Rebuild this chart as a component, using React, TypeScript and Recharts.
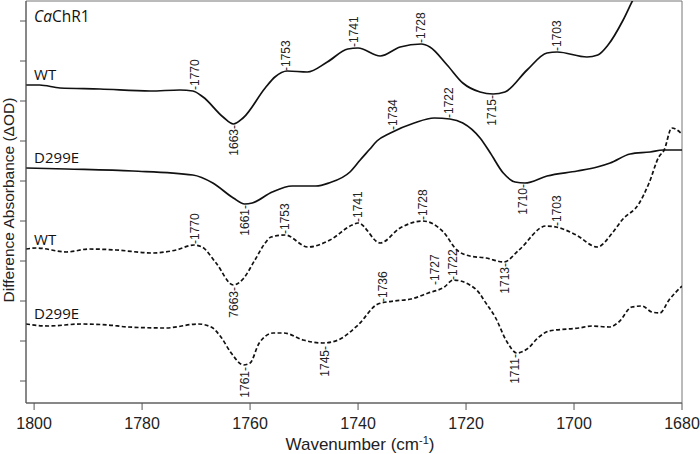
import React from 'react';
import { LineChart, Line, XAxis, YAxis, ReferenceDot, ReferenceArea } from 'recharts';

// ---- data (wavenumber in cm-1, difference absorbance in arbitrary units; 40 units per y tick) ----
const wtSolidWn = [1801.5, 1799, 1795.2, 1787.8, 1778.5, 1773, 1770.6, 1768.7, 1765, 1763.1, 1761.3, 1757.2, 1755.4, 1753.1, 1749.4, 1745.7, 1741.9, 1740, 1735.9, 1732.2, 1728.3, 1726.7, 1723.5, 1720.6, 1717.4, 1715, 1712.8, 1708.7, 1705, 1703.1, 1697.6, 1695.6, 1693.7, 1690.9, 1689.1, 1684.1, 1680];
const wtSolidVal = [296, 296, 293, 292, 290, 291, 290, 284, 264, 257, 263, 293, 304, 310, 309, 319, 332, 333, 325, 334, 337, 334, 316, 298, 289, 287, 289, 311, 328, 329, 324, 326, 336, 361, 381, 426, 461];

const d299SolidWn = [1801.5, 1794, 1781.7, 1770.6, 1766.9, 1763.1, 1761, 1759.6, 1755.9, 1752.2, 1747.8, 1745.4, 1741.5, 1739.6, 1737.8, 1736.5, 1734, 1729.6, 1725.9, 1723, 1720.6, 1717.4, 1715.5, 1713.1, 1710.9, 1709.1, 1705, 1699.4, 1695.7, 1693.3, 1689.6, 1685.9, 1683.5, 1680];
const d299SolidVal = [213, 212, 210, 206, 198, 183, 177, 178, 189, 195, 195, 198, 209, 221, 232, 240, 248, 258, 263, 262, 258, 243, 228, 208, 199, 198, 205, 210, 214, 218, 227, 229, 231, 231];

const wtDashWn = [1801.5, 1799.5, 1794, 1789.8, 1784.8, 1778.1, 1773.7, 1770.4, 1768.9, 1766.3, 1763.1, 1761.3, 1759.1, 1757.2, 1756.1, 1753.5, 1749.3, 1745.2, 1741.1, 1740, 1735.9, 1732.2, 1728, 1724.2, 1721.7, 1719.3, 1716.3, 1713, 1710.2, 1705.2, 1703.3, 1699.6, 1695.7, 1692.9, 1691.1, 1687.9, 1686.1, 1684.3, 1683.3, 1681.9, 1680];
const wtDashVal = [132, 133, 129, 132, 131, 128, 131, 136, 134, 118, 96, 102, 121, 138, 144, 146, 134, 141, 156, 158, 138, 153, 160, 149, 131, 125, 123, 119, 131, 155, 154, 146, 134, 148, 161, 178, 198, 224, 231, 253, 247];

const d299DashWn = [1801.5, 1797.4, 1791.3, 1786.3, 1782.6, 1775.7, 1769.6, 1767.2, 1765.4, 1763.5, 1761.2, 1760, 1758.3, 1755.7, 1753.7, 1750.2, 1746.5, 1743.7, 1740, 1736.3, 1733.3, 1730.2, 1727, 1724, 1722.4, 1719.3, 1717.4, 1716.7, 1714.6, 1712.4, 1710.6, 1708.7, 1706.5, 1704.6, 1699.1, 1696.7, 1693.5, 1691.7, 1689.3, 1687.4, 1685.6, 1684.1, 1682.4, 1680];
const d299DashVal = [57, 55, 57, 56, 54, 53, 57, 54, 44, 28, 16, 18, 38, 48, 48, 41, 38, 41, 56, 77, 80, 82, 88, 94, 101, 96, 87, 81, 64, 39, 28, 32, 44, 50, 53, 55, 54, 59, 74, 75, 69, 68, 81, 95];

const xTicks = [1800, 1780, 1760, 1740, 1720, 1700, 1680];
const yTicks = [0, 40, 80, 120, 160, 200, 240, 280, 320, 360];

// peak annotations: text, wavenumber, value at the end of the tick mark, direction (up = above a maximum)
const annText = ['-1770', '1663-', '-1753', '-1741', '-1728', '1715-', '-1703', '-1734', '-1722', '1661-', '1710-', '-1770', '7663-', '-1753', '-1741', '-1728', '1713-', '-1703', '1761-', '1745-', '-1736', '-1727', '-1722', '1711-'];
const annWn = [1770.2, 1763.1, 1753.3, 1740.7, 1728.3, 1715.2, 1703.1, 1733.5, 1723.1, 1760.9, 1709.4, 1770.2, 1763.1, 1753.5, 1740, 1728, 1712.8, 1703.1, 1760.9, 1746.1, 1735.4, 1725.7, 1722.4, 1710.9];
const annVal = [291, 256, 310, 334, 338, 286, 330, 251, 263, 176, 197, 137, 94, 147, 159, 161, 118, 155, 14, 35, 79, 96, 101, 27];
const annUp = [true, false, true, true, true, false, true, true, true, false, false, true, false, true, true, true, false, true, false, false, true, true, true, false];

// trace names
const traceNames = ['WT', 'D299E', 'WT', 'D299E'];
const traceNameVal = [301, 218, 136, 62];

const toPts = (wn: number[], val: number[]) => wn.map((w, i) => ({ wn: w, v: val[i] }));

const LABEL_FONT = "'Open Sans', 'Liberation Sans', sans-serif";
const AXIS_FONT = "'Liberation Sans', Arial, sans-serif";

export default function App() {
  const series = [
    { data: toPts(wtSolidWn, wtSolidVal), dash: undefined },
    { data: toPts(d299SolidWn, d299SolidVal), dash: undefined },
    { data: toPts(wtDashWn, wtDashVal), dash: '4 2.4' },
    { data: toPts(d299DashWn, d299DashVal), dash: '4 2.4' },
  ];
  return (
    <div style={{ position: 'absolute', left: 0, top: 0, width: 700, height: 454, background: '#fff' }}>
      <LineChart width={700} height={454} margin={{ top: 1, right: 18, bottom: 0, left: 0 }}>
        <XAxis
          type="number"
          dataKey="wn"
          domain={[1680, 1801.5]}
          reversed
          allowDataOverflow
          ticks={xTicks}
          height={51}
          tickSize={7}
          tickMargin={8}
          stroke="#555"
          tick={{ fontSize: 16, fill: '#222', fontFamily: AXIS_FONT }}
          label={{
            content: (p: any) => {
              const vb = p.viewBox || { x: 26, y: 403, width: 656 };
              return (
                <text x={vb.x + vb.width / 2 + 6} y={vb.y + 47} textAnchor="middle" fontSize={17} fill="#222" fontFamily={AXIS_FONT}>
                  Wavenumber (cm<tspan dy={-6} fontSize={11}>-1</tspan><tspan dy={6}>)</tspan>
                </text>
              );
            },
          }}
        />
        <YAxis
          type="number"
          domain={[-22, 380]}
          allowDataOverflow
          ticks={yTicks}
          width={26}
          tickSize={6}
          stroke="#555"
          tick={() => <g />}
          label={{
            content: () => (
              <text x={14} y={200} transform="rotate(-90, 14, 200)" textAnchor="middle" fontSize={15.5} fill="#222" fontFamily={AXIS_FONT}>
                Difference Absorbance (ΔOD)
              </text>
            ),
          }}
        />
        <ReferenceArea x1={1801.5} x2={1680} y1={-22} y2={380} fill="none" stroke="#777" strokeWidth={1} ifOverflow="visible" />
        {series.map((s, i) => (
          <Line
            key={i}
            data={s.data}
            dataKey="v"
            type="monotone"
            stroke="#111"
            strokeWidth={1.7}
            strokeDasharray={s.dash}
            dot={false}
            activeDot={false}
            isAnimationActive={false}
          />
        ))}
        <ReferenceDot
          x={1800}
          y={359}
          r={0}
          shape={(p: any) => (
            <text x={p.cx} y={p.cy} fontSize={15.5} fill="#111" fontFamily={LABEL_FONT}>
              <tspan fontStyle="italic">Ca</tspan>ChR1
            </text>
          )}
        />
        {traceNames.map((n, i) => (
          <ReferenceDot
            key={'n' + i}
            x={1800}
            y={traceNameVal[i]}
            r={0}
            shape={(p: any) => (
              <text x={p.cx} y={p.cy} fontSize={15} fill="#111" fontFamily={LABEL_FONT}>
                {n}
              </text>
            )}
          />
        ))}
        {annText.map((t, i) => (
          <ReferenceDot
            key={'a' + i}
            x={annWn[i]}
            y={annVal[i]}
            r={0}
            shape={(p: any) => (
              <text
                x={p.cx}
                y={p.cy}
                dy="0.35em"
                transform={`rotate(-90, ${p.cx}, ${p.cy})`}
                textAnchor={annUp[i] ? 'start' : 'end'}
                fontSize={12}
                fill="#222"
                fontFamily={AXIS_FONT}
              >
                {t}
              </text>
            )}
          />
        ))}
      </LineChart>
    </div>
  );
}
